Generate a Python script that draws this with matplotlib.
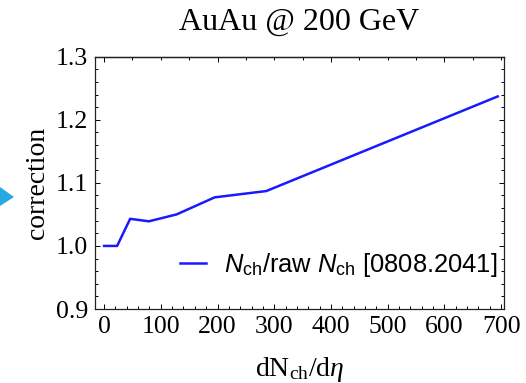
import matplotlib
matplotlib.use('Agg')
import matplotlib.pyplot as plt
from matplotlib.ticker import MultipleLocator
from matplotlib.patches import Polygon

# Corrección de multiplicidad, AuAu a 200 GeV
dndeta = [0, 23, 46, 79, 128, 195, 286, 694]
correction = [1.000, 1.000, 1.043, 1.039, 1.050, 1.077, 1.087, 1.237]
legend_label = r'$\mathsf{N}_{\mathtt{ch}}$/raw $\mathsf{N}_{\mathtt{ch}}$ [0808.2041]'

plt.rcParams['font.family'] = 'Liberation Serif'
plt.rcParams['mathtext.fontset'] = 'custom'
plt.rcParams['mathtext.rm'] = 'Liberation Serif'
plt.rcParams['mathtext.it'] = 'Liberation Serif:italic'
plt.rcParams['mathtext.sf'] = 'Liberation Sans:italic'
plt.rcParams['mathtext.tt'] = 'Liberation Sans'

fig = plt.figure(figsize=(5.26, 3.83), dpi=100)
ax = fig.add_axes([0.1806, 0.1932, 0.7775, 0.6588])

ax.plot(dndeta, correction, color='#1a1aff', lw=1.8, label=legend_label)

ax.set_xlim(-16, 705)
ax.set_ylim(0.9, 1.3)
ax.xaxis.set_major_locator(MultipleLocator(100))
ax.xaxis.set_minor_locator(MultipleLocator(20))
ax.yaxis.set_major_locator(MultipleLocator(0.1))
ax.yaxis.set_minor_locator(MultipleLocator(0.02))
ax.yaxis.set_major_formatter(plt.FormatStrFormatter('%.1f'))

for s in ax.spines.values():
    s.set_linewidth(0.9)
    s.set_color('#222222')
ax.tick_params(which='both', direction='in', top=False, right=True,
               width=0.7, labelsize=18.5, pad=5)
ax.tick_params(which='major', length=3.8)
ax.tick_params(which='minor', length=2.2)

# Marcas del borde superior
top = ax.secondary_xaxis('top')
top.xaxis.set_major_locator(MultipleLocator(200))
top.xaxis.set_minor_locator(MultipleLocator(50))
top.tick_params(which='both', direction='in', labeltop=False, width=0.7)
top.tick_params(which='major', length=3.8)
top.tick_params(which='minor', length=2.2)
top.spines['top'].set_linewidth(0.9)

# Etiquetas
ax.set_title('AuAu @ 200 GeV', fontsize=23, pad=19)
ax.set_xlabel(r'dN$_{\mathrm{ch}}$/d$\eta$', fontsize=20, labelpad=12)
ax.set_ylabel('correction', fontsize=20, labelpad=4)

ax.legend(loc='center right', bbox_to_anchor=(0.983, 0.175), frameon=False,
          borderpad=0, borderaxespad=0, handlelength=1.0, handletextpad=0.7,
          prop={'family': 'Liberation Sans', 'size': 18.4})

# Flecha cortada en el borde izquierdo
fig.patches.append(Polygon([[0, 1 - 187 / 383], [0, 1 - 206 / 383], [14 / 526, 1 - 197 / 383]],
                           closed=True, transform=fig.transFigure, color='#27aae1', lw=0))

plt.savefig('out.png', dpi=100)
